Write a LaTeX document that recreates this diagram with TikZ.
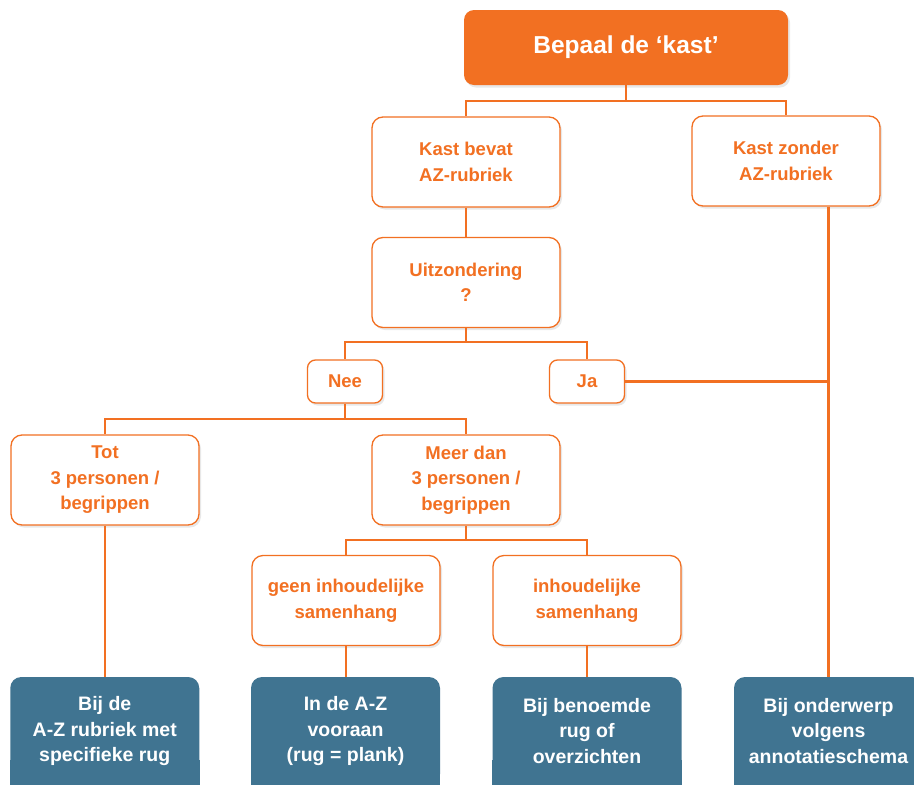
\documentclass[tikz,border=0pt]{standalone}
\usepackage{fontspec}
\setmainfont{Liberation Sans}
\usetikzlibrary{shadows}
\definecolor{org}{HTML}{F27022}
\definecolor{blu}{HTML}{407491}
\tikzset{
 wbox/.style={draw=org, line width=1.3pt, fill=white, rounded corners=11pt, text=org,
   font=\bfseries\fontsize{18.5}{25.5}\selectfont, align=center, minimum width=188pt,
   minimum height=90pt, inner sep=2pt,
   drop shadow={shadow xshift=2pt, shadow yshift=-2.5pt, opacity=0.18}},
 smallbox/.style={wbox, minimum width=75pt, minimum height=43pt, rounded corners=8pt},
 bbox/.style={fill=blu, rounded corners=11pt, text=white,
   font=\bfseries\fontsize{19.5}{25.5}\selectfont, align=center, minimum width=189pt,
   minimum height=108pt, inner sep=2pt},
 conn/.style={draw=org, line width=2.2pt},
}
\begin{document}
\begin{tikzpicture}[x=1pt,y=-1pt]
\useasboundingbox[fill=white] (0,0) rectangle (914,785);
% top
\node[fill=org, rounded corners=10pt, text=white, font=\bfseries\fontsize{24.5}{28}\selectfont,
  minimum width=324pt, minimum height=75pt,
  drop shadow={shadow xshift=2pt, shadow yshift=-2.5pt, opacity=0.18}] (top) at (626,47.5) {Bepaal de ‘kast’};
% level 1
\node[wbox] (kb) at (466,162) {Kast bevat\\AZ-rubriek};
\node[wbox] (kz) at (786,161) {Kast zonder\\AZ-rubriek};
\node[wbox] (uz) at (466,282.5) {Uitzondering\\?};
\node[smallbox] (nee) at (345,381.5) {Nee};
\node[smallbox] (ja) at (587,381.5) {Ja};
\node[wbox] (tot) at (105,480) {Tot\\3 personen /\\begrippen};
\node[wbox] (meer) at (466,480) {Meer dan\\3 personen /\\begrippen};
\node[wbox] (geen) at (346,600.5) {geen inhoudelijke\\samenhang};
\node[wbox] (inh) at (587,600.5) {inhoudelijke\\samenhang};
% blue boxes (extend past bottom edge)
\fill[blu] (10,760) rectangle (199.5,800);
\fill[blu] (251,760) rectangle (440,800);
\fill[blu] (492,760) rectangle (682,800);
\fill[blu] (734,760) rectangle (923,800);
\node[bbox] (b1) at (104.75,731) {Bij de\\A-Z rubriek met\\specifieke rug};
\node[bbox] (b2) at (345.5,731) {In de A-Z\\vooraan\\(rug = plank)};
\node[bbox] (b3) at (587,731) {Bij benoemde\\rug of\\overzichten};
\node[bbox] (b4) at (828.5,731) {Bij onderwerp\\volgens\\annotatieschema};
% connectors
\coordinate (j1) at (626,101);
\draw[conn] (top.south) -- (j1);
\draw[conn] (j1) -| (kb.north);
\draw[conn] (j1) -| (kz.north);
\draw[conn] (kb.south) -- (uz.north);
\coordinate (j2) at (466,342);
\draw[conn] (uz.south) -- (j2);
\draw[conn] (j2) -| (nee.north);
\draw[conn] (j2) -| (ja.north);
\coordinate (j3) at (345,419);
\draw[conn] (nee.south) -- (j3);
\draw[conn] (j3) -| (tot.north);
\draw[conn] (j3) -| (meer.north);
\coordinate (j4) at (466,540);
\draw[conn] (meer.south) -- (j4);
\draw[conn] (j4) -| (geen.north);
\draw[conn] (j4) -| (inh.north);
\draw[conn] (tot.south) -- (tot.south |- b1.north);
\draw[conn] (geen.south) -- (geen.south |- b2.north);
\draw[conn] (inh.south) -- (b3.north);
\draw[conn] (kz.south -| b4.north) -- (b4.north);
\draw[conn] (ja.east) -- (ja.east -| b4.north);
\end{tikzpicture}
\end{document}
